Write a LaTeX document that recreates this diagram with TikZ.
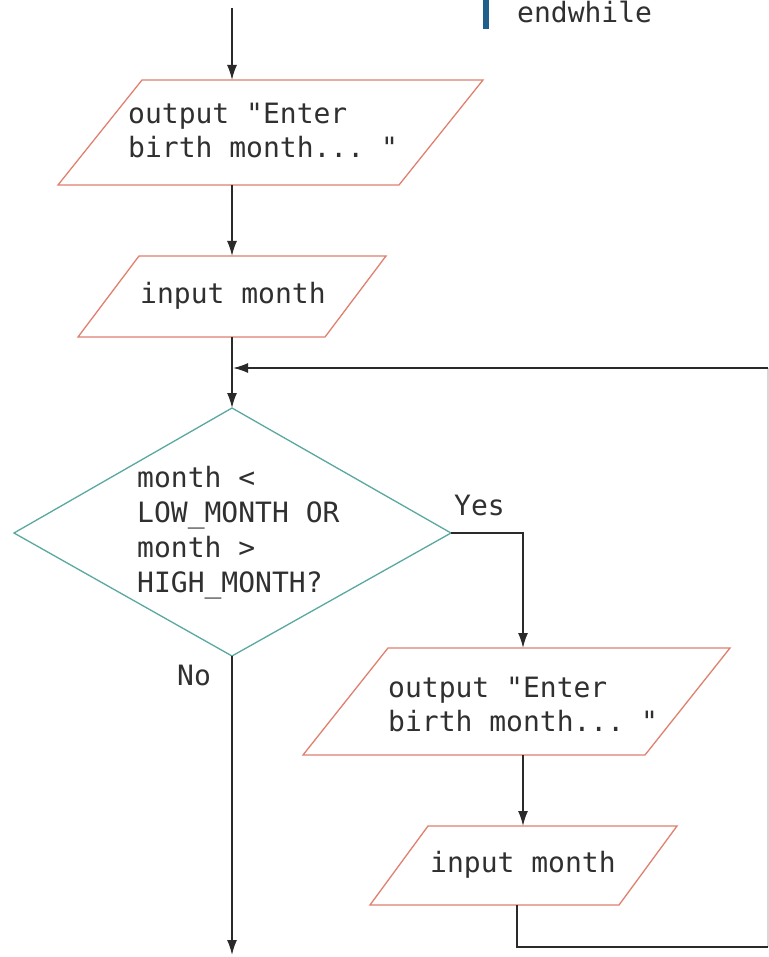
\documentclass[tikz,border=0pt]{standalone}
\usepackage{fontspec}
\setmonofont{DejaVu Sans Mono}
\usetikzlibrary{arrows.meta}
\definecolor{boxred}{HTML}{E0806E}
\definecolor{dteal}{HTML}{5AA8A2}
\definecolor{lineclr}{HTML}{2A2A2A}
\definecolor{txtclr}{HTML}{303030}
\definecolor{barblue}{HTML}{1F5F8B}
\definecolor{edgeclr}{HTML}{D8D8D8}
\begin{document}
\begin{tikzpicture}[x=1pt,y=-1pt,
  txt/.style={font=\ttfamily\fontsize{28}{35}\selectfont, text=txtclr, inner sep=0pt, anchor=base west},
  io/.style={draw=boxred, line width=1.3pt, line join=miter},
  dec/.style={draw=dteal, line width=1.3pt, line join=miter},
  flow/.style={draw=lineclr, line width=1.6pt, -{Latex[length=15pt,width=10pt]}},
  plain/.style={draw=lineclr, line width=1.6pt},
  faint/.style={draw=edgeclr, line width=1.6pt}]
\useasboundingbox (0,0) rectangle (768,957);
\fill[white] (0,0) rectangle (768,957);

% top right fragment
\fill[barblue] (483,0) rectangle (489,29);
\node[txt] (endw) at (517,23) {endwhile};

% coordinates
\coordinate (start) at (232,8);
\coordinate (p1t) at (232,80);
\coordinate (p1b) at (232,185);
\coordinate (p2t) at (232,256);
\coordinate (p2b) at (232,337);
\coordinate (dt) at (232,408);
\coordinate (dr) at (451,533);
\coordinate (db) at (232,656);
\coordinate (dl) at (14,533);
\coordinate (loopin) at (233,368);
\coordinate (yesc) at (523,533);
\coordinate (p3t) at (523,648);
\coordinate (p3b) at (523,755);
\coordinate (p4t) at (523,826);
\coordinate (p4b) at (517,905);
\coordinate (lc1) at (517,947);
\coordinate (lc2) at (768,947);
\coordinate (lc3) at (768,368);
\coordinate (noend) at (232,955);

% shapes
\draw[io] (142,80) -- (483,80) -- (399,185) -- (58,185) -- cycle;
\node[txt] (t1a) at (128,124) {output "Enter};
\node[txt] (t1b) at (128,158) {birth month... "};

\draw[io] (139,256) -- (386,256) -- (325,337) -- (78,337) -- cycle;
\node[txt] (t2) at (140,303) {input month};

\draw[dec] (dt) -- (dr) -- (db) -- (dl) -- cycle;
\node[txt] (d1) at (137,487) {month <};
\node[txt] (d2) at (137,522) {LOW\_MONTH OR};
\node[txt] (d3) at (137,557) {month >};
\node[txt] (d4) at (137,592) {HIGH\_MONTH?};

\draw[io] (388,648) -- (730,648) -- (645,755) -- (303,755) -- cycle;
\node[txt] (t3a) at (388,697) {output "Enter};
\node[txt] (t3b) at (388,731) {birth month... "};

\draw[io] (428,826) -- (677,826) -- (619,905) -- (370,905) -- cycle;
\node[txt] (t4) at (430,872) {input month};

% labels
\node[txt] (yes) at (454,515) {Yes};
\node[txt] (no) at (177,685) {No};

% connectors
\draw[flow] (start) -- (p1t);
\draw[flow] (p1b) -- (p2t);
\draw[flow] (p2b) -- (dt);
\draw[flow] (dr) -- (yesc) -- (p3t);
\draw[flow] (p3b) -- (p4t);
\draw[faint] (lc2) -- (lc3);
\draw[plain] (p4b) -- (lc1) -- (lc2);
\draw[flow] (lc3) -- (loopin);
\draw[flow] (db) -- (noend);
\end{tikzpicture}
\end{document}
